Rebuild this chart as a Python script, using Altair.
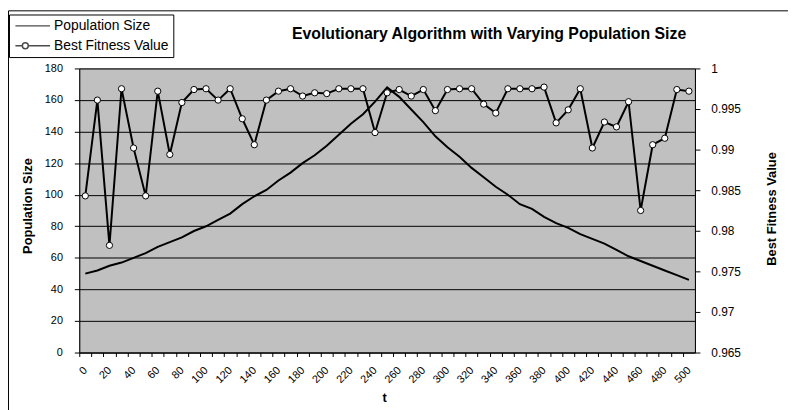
import altair as alt
import pandas as pd

# ---- data ----
t_values = list(range(0, 501, 10))
population = [50, 52, 55, 57, 60, 63, 67, 70, 73, 77,
              80, 84, 88, 94, 99, 103, 109, 114, 120, 125,
              131, 138, 145, 151, 159, 168, 162, 154, 146, 137,
              130, 124, 117, 111, 105, 100, 94, 91, 86, 82,
              79, 75, 72, 69, 65, 61, 58, 55, 52, 49, 46]
fitness = [0.9843, 0.9961, 0.9782, 0.9975, 0.9902, 0.9843, 0.9972, 0.9894, 0.9958, 0.9974,
           0.9975, 0.9961, 0.9975, 0.9938, 0.9906, 0.9961, 0.9972, 0.9975, 0.9966, 0.9970,
           0.9969, 0.9975, 0.9975, 0.9975, 0.9921, 0.9970, 0.9974, 0.9966, 0.9974, 0.9948,
           0.9974, 0.9975, 0.9975, 0.9956, 0.9945, 0.9975, 0.9975, 0.9975, 0.9977, 0.9933,
           0.9949, 0.9975, 0.9902, 0.9934, 0.9928, 0.9959, 0.9825, 0.9906, 0.9914, 0.9974,
           0.9972]
series_names = ["Population Size", "Best Fitness Value"]
pop_ticks = list(range(0, 181, 20))
fit_ticks = [0.965, 0.97, 0.975, 0.98, 0.985, 0.99, 0.995, 1.0]
title_text = "Evolutionary Algorithm with Varying Population Size"

df = pd.DataFrame({"t": t_values, "pop": population, "fit": fitness})
legend_df = pd.DataFrame({"series": series_names})
frame_df = pd.DataFrame({"a": [0]})

FONT = "Liberation Sans"
W, H = 622, 287
half_cat = W / 51 / 2

x_axis = alt.Axis(
    values=t_values, title="t", grid=False,
    labelExpr="datum.value % 20 === 0 ? datum.label : ''",
    format="d", labelAngle=-45, labelAlign="right", labelBaseline="middle",
    labelFont=FONT, labelFontSize=11, labelColor="black", labelPadding=12,
    tickSize=4, tickColor="black", tickOffset=-half_cat, labelOffset=half_cat,
    domainColor="black", labelOverlap=False, labelFlush=False,
    titleFont=FONT, titleFontSize=13, titleFontWeight="bold", titleColor="black",
    titleBaseline="alphabetic", titleY=49, titleX=W / 2 - 3,
)
x_enc = alt.X("t:Q", scale=alt.Scale(domain=[-5, 505], nice=False, zero=False), axis=x_axis)

pop_line = alt.Chart(df).mark_line(color="black", strokeWidth=2).encode(
    x=x_enc,
    y=alt.Y("pop:Q", scale=alt.Scale(domain=[0, 180], nice=False),
            axis=alt.Axis(orient="left", values=pop_ticks, title="Population Size",
                          grid=True, gridColor="black", gridWidth=1,
                          labelFont=FONT, labelFontSize=11, labelColor="black",
                          labelPadding=12, tickSize=5, tickColor="black",
                          domainColor="black",
                          titleFont=FONT, titleFontSize=13, titleFontWeight="bold",
                          titleColor="black", titleAngle=270, titleAlign="center",
                          titleBaseline="alphabetic", titleX=-48, titleY=H / 2 - 5)),
)

fit_line = alt.Chart(df).mark_line(
    color="black", strokeWidth=2,
    point=alt.OverlayMarkDef(filled=True, fill="white", stroke="black", strokeWidth=1, size=40, opacity=1),
).encode(
    x=x_enc,
    y=alt.Y("fit:Q", scale=alt.Scale(domain=[0.965, 1.0], nice=False, zero=False),
            axis=alt.Axis(orient="right", values=fit_ticks, format=".3~f",
                          title="Best Fitness Value", grid=False,
                          labelFont=FONT, labelFontSize=12, labelColor="black",
                          labelPadding=11, tickSize=5, tickColor="black",
                          domainColor="black",
                          titleFont=FONT, titleFontSize=13, titleFontWeight="bold",
                          titleColor="black", titleAngle=270, titleAlign="center",
                          titleBaseline="alphabetic", titleX=81, titleY=H / 2 - 2)),
)

pathA = "M-1,0H6"
pathB = "M-1,0H0.4M1.6,0H6M0.4,0A0.6,0.6,0,1,1,1.6,0A0.6,0.6,0,1,1,0.4,0"

# legend-only layer: its rows are filtered out, the legend comes from the scale domain
legend_layer = alt.Chart(legend_df).transform_filter("false").mark_point(
    filled=True, fill="white", stroke="black", strokeWidth=1.5, size=100
).encode(
    shape=alt.Shape("series:N",
                    scale=alt.Scale(domain=series_names, range=[pathA, pathB]),
                    legend=alt.Legend(title=None, orient="none", legendX=-71, legendY=-54.5,
                                      fillColor="white", strokeColor="black", padding=4.5,
                                      labelFont=FONT, labelFontSize=14, labelColor="black",
                                      labelOffset=27, rowPadding=6)),
)

# outer chart-area border (clipped at the page edges like the reference)
frame = alt.Chart(frame_df).mark_rect(fill="transparent", stroke="black", strokeWidth=1).encode(
    x=alt.value(-71.5), y=alt.value(-58.2), x2=alt.value(1000), y2=alt.value(700)
)

chart = alt.layer(pop_line, fit_line, legend_layer, frame).resolve_scale(
    y="independent"
).properties(
    width=W, height=H,
    view=alt.ViewBackground(fill="#C0C0C0", stroke="#808080", strokeWidth=1),
    title=alt.TitleParams(title_text, font=FONT, fontSize=16, fontWeight="bold", color="black",
                          anchor="middle", dx=103, dy=36, frame="group"),
    autosize=alt.AutoSizeParams(type="none"),
    padding={"left": 72, "top": 59, "right": 94, "bottom": 56},
)

chart.save("out.html", embed_options={"renderer": "svg", "actions": False})
